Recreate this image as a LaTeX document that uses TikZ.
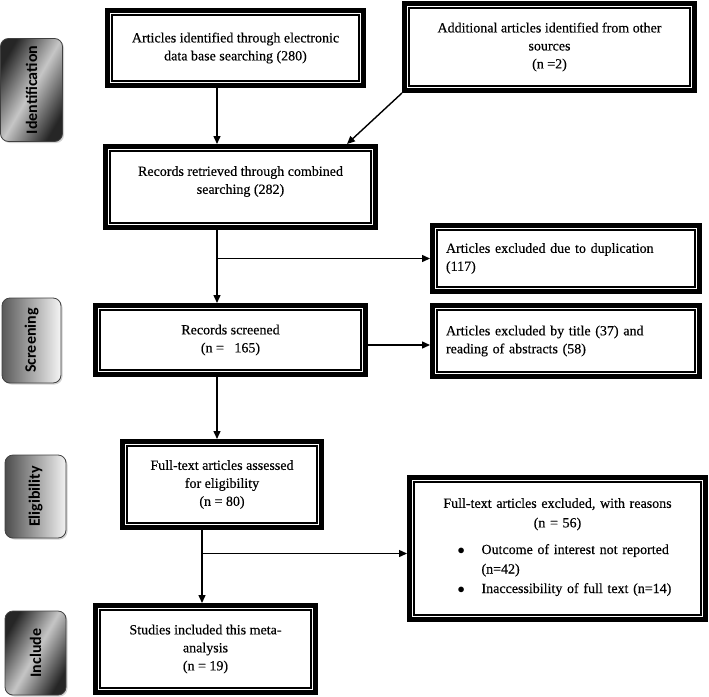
\documentclass[tikz,border=0pt]{standalone}
\usepackage{fontspec}
\setmainfont{Liberation Serif}[FakeBold=0.35]
\newfontfamily\stagefont{Carlito}
\usetikzlibrary{arrows.meta,shadows}

\begin{document}
\begin{tikzpicture}[x=1pt,y=-1pt,
  >={Triangle[length=8pt,width=7pt]},
  prbox/.style={draw, line width=5pt, fill=white, align=center, inner sep=4pt,
    font=\fontsize{14}{18}\selectfont,
    path picture={\draw[line width=1.2pt] ([shift={(4.5pt,4.5pt)}]path picture bounding box.south west)
      rectangle ([shift={(-4.5pt,-4.5pt)}]path picture bounding box.north east);}},
  stage/.style={draw=black!75, line width=0.8pt, rounded corners=8pt, rotate=90,
    font=\stagefont\bfseries\fontsize{16}{18}\selectfont,
    drop shadow={opacity=0.35, shadow xshift=1.5pt, shadow yshift=-1.5pt}},
  link/.style={->, line width=1.4pt}]
\useasboundingbox (0,0) rectangle (709,696);

% phases
\node[stage, minimum width=103, minimum height=62, left color=black!85, right color=black!85, middle color=gray!45, shading angle=60] (idn) at (31.5,90) {Identification};
\node[stage, minimum width=85, minimum height=59, left color=black!65, right color=gray!8] (scr) at (31.5,340.5) {Screening};
\node[stage, minimum width=83, minimum height=61, left color=black!70, right color=gray!10] (elg) at (35.5,496.5) {Eligibility};
\node[stage, minimum width=84, minimum height=61, left color=black!85, right color=black!85, middle color=gray!45, shading angle=60] (inc) at (35.5,653) {Include};

% boxes
\node[prbox, minimum width=256, minimum height=75] (b1) at (235.5,48) {Articles identified through electronic\\ data base searching (280)};
\node[prbox, minimum width=290, minimum height=87] (b2) at (549.5,47) {Additional articles identified from other\\ sources\\ (n =2)};
\node[prbox, minimum width=270, minimum height=81] (b3) at (240.5,187) {Records retrieved through combined\\ searching (282)\\[-4pt] \mbox{}};
\node[prbox, minimum width=267, minimum height=66, text width=240, align=left] (b5) at (566,258.5) {Articles excluded due to duplication\\ (117)};
\node[prbox, minimum width=270, minimum height=69] (b4) at (230.5,340) {Records screened\\ (n =\ \ \ 165)};
\node[prbox, minimum width=267, minimum height=71, text width=240, align=left] (b6) at (566,341) {Articles excluded by title (37) and\\ reading of abstracts (58)};
\node[prbox, minimum width=199, minimum height=86] (b7) at (222,484.5) {Full-text articles assessed\\ for eligibility\\ (n = 80)};
\node[prbox, minimum width=296, minimum height=142, text width=272, font=\fontsize{14}{19.5}\selectfont] (b8) at (557.5,548.5) {Full-text articles excluded, with reasons\\ (n = 56)\\[9pt]
  \hspace*{28pt}\begin{tabular}{@{}p{14pt}@{\hspace{10pt}}p{204pt}@{}}
  $\bullet$ & Outcome of interest not reported (n=42)\\
  $\bullet$ & Inaccessibility of full text (n=14)
  \end{tabular}};
\node[prbox, minimum width=220, minimum height=87] (b9) at (205.5,649) {Studies included this meta-\\ analysis\\ (n = 19)};

% connectors
\coordinate (sp1) at (217,0);
\coordinate (sp2) at (202,0);
\coordinate (j3) at ([yshift=-5pt]b4.east);
\coordinate (j2) at (202,553.5);
\draw[link] (b1.south -| sp1) -- (b3.north -| sp1);
\draw[link] (b2.south west) -- ([xshift=-31pt]b3.north east);
\draw[link] (b3.south -| sp1) -- (b4.north -| sp1);
\draw[link] (sp1 |- b5.west) -- (b5.west);
\draw[link] (j3) -- (j3 -| b6.west);
\draw[link] (b4.south -| sp1) -- (b7.north -| sp1);
\draw[link] (b7.south -| sp2) -- (b9.north -| sp2);
\draw[link] (j2) -- (j2 -| b8.west);
\end{tikzpicture}
\end{document}
